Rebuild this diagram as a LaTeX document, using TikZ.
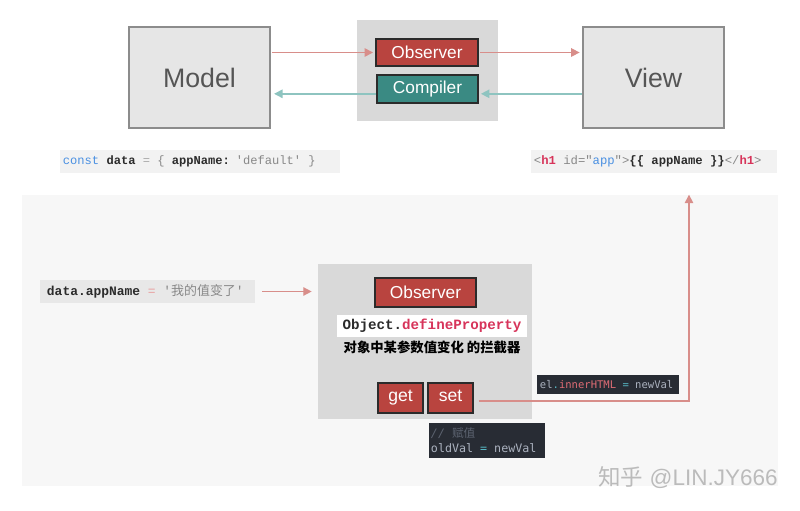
\documentclass[tikz,border=0pt]{standalone}
\usepackage{fontspec}
\setmainfont{Liberation Sans}
\setmonofont{Liberation Mono}
\newfontfamily\darkmono{DejaVu Sans Mono}
\newfontfamily\cjk{Noto Sans CJK SC}
\usetikzlibrary{positioning,arrows.meta}
\newcommand\wordgap{\spaceskip=0.6em\relax\hyphenpenalty=10000\relax}
\newcommand\darkgap{\spaceskip=0.602em\relax\hyphenpenalty=10000\relax}

\definecolor{boxgray}{HTML}{E6E6E6}
\definecolor{boxline}{HTML}{8C8C8C}
\definecolor{holdgray}{HTML}{D9D9D9}
\definecolor{obsred}{HTML}{B9443F}
\definecolor{compteal}{HTML}{3A8A83}
\definecolor{darkline}{HTML}{2B2B2B}
\definecolor{pinkline}{HTML}{D88E8A}
\definecolor{tealline}{HTML}{8EC4C0}
\definecolor{modeltext}{HTML}{555555}
\definecolor{codebg}{HTML}{F2F2F2}
\definecolor{panelbg}{HTML}{F7F7F7}
\definecolor{darkbg}{HTML}{282C34}
\definecolor{darktext}{HTML}{ABB2BF}
\definecolor{kwblue}{HTML}{4A90E2}
\definecolor{tagred}{HTML}{D7345A}
\definecolor{strgray}{HTML}{888888}
\definecolor{opgray}{HTML}{AAAAAA}
\definecolor{hlpink}{HTML}{E06C75}
\definecolor{hlteal}{HTML}{56B6C2}
\definecolor{cmtgray}{HTML}{5C6370}
\definecolor{eqpink}{HTML}{E8A0A0}
\definecolor{markgray}{HTML}{BBBBBB}

\begin{document}
\begin{tikzpicture}[
    x=0.025cm, y=-0.025cm,
    grayblock/.style={rectangle, draw=boxline, fill=boxgray, line width=0.8pt, minimum width=3.525cm, minimum height=2.525cm, font=\fontsize{19}{23}\selectfont, text=modeltext},
    holder/.style={rectangle, fill=holdgray, inner sep=0pt},
    redbox/.style={rectangle, draw=darkline, fill=obsred, line width=1.2pt, text=white, inner sep=0pt, font=\fontsize{12.3}{14}\selectfont},
    tealbox/.style={redbox, fill=compteal},
    smallred/.style={redbox, minimum width=1.125cm, minimum height=0.75cm, text height=1ex, text depth=0pt, font=\fontsize{12.5}{14}\selectfont},
    codelight/.style={rectangle, fill=codebg, inner xsep=0.075cm, inner ysep=0pt, minimum height=0.575cm, align=left, font=\ttfamily\fontsize{8.6}{10}\selectfont, execute at begin node=\wordgap},
    codedark/.style={rectangle, fill=darkbg, inner xsep=0.05cm, inner ysep=0pt, align=left, text=darktext, font=\darkmono\fontsize{7.9}{10}\selectfont, execute at begin node=\darkgap},
    pinkarrow/.style={-{Triangle[length=6pt,width=6pt]}, draw=pinkline, line width=1pt},
    tealarrow/.style={-{Triangle[length=6pt,width=6pt]}, draw=tealline, line width=1pt},
]
\useasboundingbox (0,0) rectangle (800,511);

% ====== Top row ======
\node[grayblock] (model) at (199.5, 77.5) {Model};
\node[grayblock] (view) at (653.5, 77.5) {View};
\node[holder, minimum width=3.525cm, minimum height=2.525cm] (hub) at (427.5, 70.5) {};
\node[redbox, minimum width=2.55cm, minimum height=0.675cm] (obsTop) at (427, 52.5) {Observer};
\node[tealbox, minimum width=2.525cm, minimum height=0.7cm] (compTop) at (427.5, 89) {Compiler};

\draw[pinkarrow, shorten <=1pt, shorten >=1.5pt] (model.east |- obsTop.west) -- (obsTop.west);
\draw[pinkarrow, shorten <=1pt, shorten >=2pt] (obsTop.east) -- (view.west |- obsTop.east);
\draw[tealarrow, shorten >=1.5pt] ([yshift=-0.12cm]view.west |- compTop.east) -- ([yshift=-0.12cm]compTop.east);
\draw[tealarrow, shorten >=2.5pt] ([yshift=-0.12cm]compTop.west) -- ([yshift=-0.12cm]model.east |- compTop.west);

% ====== Code under the blocks ======
\node[codelight, text width=6.85cm] (codeData) at (200, 161.5)
{\textcolor{kwblue}{const} \textcolor{darkline}{\bfseries data} \textcolor{opgray}{=} \textcolor{strgray}{\{} \textcolor{darkline}{\bfseries appName:} \textcolor{strgray}{'default'} \textcolor{strgray}{\}}};
\node[codelight, text width=6.0cm, font=\ttfamily\fontsize{8.7}{10}\selectfont] (codeHtml) at (654, 161.5)
{\textcolor{strgray}{<}\textcolor{tagred}{\bfseries h1} \textcolor{strgray}{id="}\textcolor{kwblue}{app}\textcolor{strgray}{">}\textcolor{darkline}{\bfseries\{\{ appName \}\}}\textcolor{strgray}{</}\textcolor{tagred}{\bfseries h1}\textcolor{strgray}{>}};

% ====== Lower panel ======
\node[rectangle, fill=panelbg, inner sep=0pt, minimum width=18.9cm, minimum height=7.275cm] (panel) at (400, 340.5) {};

\node[codelight, fill=codebg!90!gray!95, inner xsep=0.175cm, text width=5.025cm, font=\ttfamily\fontsize{9.2}{11}\selectfont] (codeSet) at (147.5, 291.5)
{\textcolor{darkline}{\bfseries data.appName} \textcolor{eqpink}{=} \textcolor{strgray}{'{\cjk 我的值变了}'}};

\node[holder, minimum width=5.35cm, minimum height=3.875cm] (hook) at (425, 341.5) {};
\node[redbox, minimum width=2.525cm, minimum height=0.725cm] (obsBot) at (425.5, 292.5) {Observer};
\node[rectangle, fill=white, inner sep=0pt, minimum width=4.75cm, minimum height=0.55cm, font=\ttfamily\bfseries\fontsize{10.1}{12}\selectfont] (defProp) at (432, 326)
{\textcolor{darkline}{Object.}\textcolor{tagred}{defineProperty}};
\node[font=\cjk\bfseries\fontsize{9.5}{11}\selectfont] (zhNote) at (432, 347) {对象中某参数值变化 的拦截器};
\node[smallred] (get) at (400.5, 398) {get};
\node[smallred] (set) at (450.5, 398) {set};

\node[codedark, inner xsep=0.075cm, text width=3.4cm, minimum height=0.475cm, font=\darkmono\fontsize{7.5}{9.5}\selectfont] (elCode) at (608, 384.5)
{el\textcolor{hlteal}{.}\textcolor{hlpink}{innerHTML} \textcolor{hlteal}{=} newVal};
\node[codedark, text width=2.8cm, minimum height=0.875cm, font=\darkmono\fontsize{8.3}{10.5}\selectfont] (oldCode) at (487, 440.5)
{\textcolor{cmtgray}{\itshape // {\cjk 赋值}}\\oldVal \textcolor{hlteal}{=} newVal};

\draw[pinkarrow, shorten <=0.175cm, shorten >=0.15cm] (codeSet.east) -- (hook.west |- codeSet.east);

\coordinate (turn) at (689, 401);
\draw[pinkarrow] ([xshift=0.12cm]set.east |- turn) -- (turn) -- (turn |- panel.north);

% ====== Watermark ======
\node[text=markgray, font=\fontsize{16}{18}\selectfont] (mark) at (688, 478) {{\cjk 知乎} @LIN.JY666};

\end{tikzpicture}
\end{document}
